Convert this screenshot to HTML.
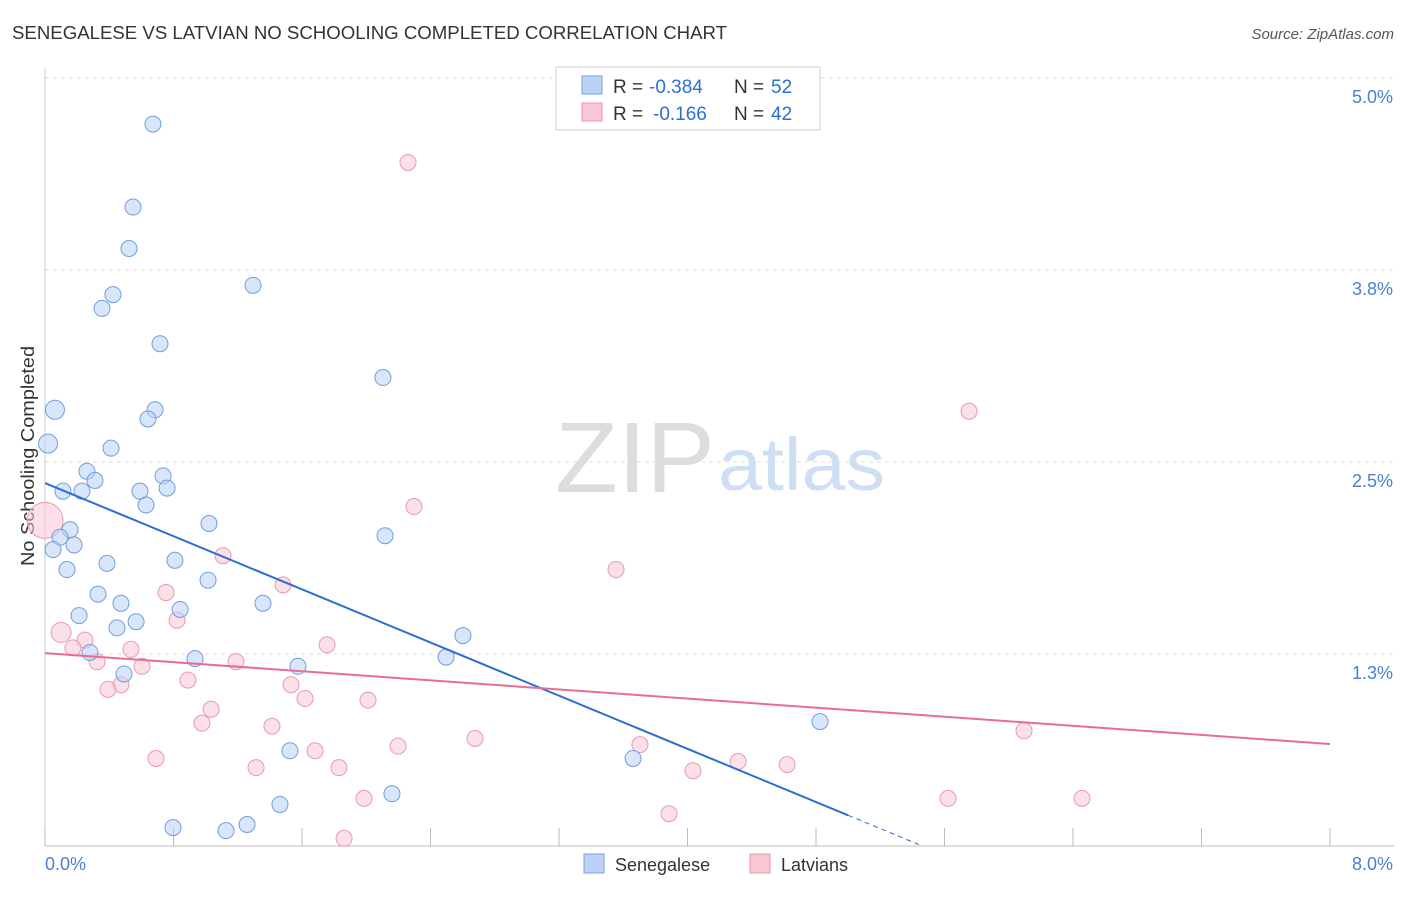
<!DOCTYPE html>
<html><head><meta charset="utf-8"><style>
body{margin:0;background:#fff;font-family:"Liberation Sans",sans-serif}
svg text{font-family:"Liberation Sans",sans-serif}
</style></head><body>
<svg width="1406" height="892">
<text x="12" y="39" font-size="18" fill="#333" textLength="715" lengthAdjust="spacingAndGlyphs">SENEGALESE VS LATVIAN NO SCHOOLING COMPLETED CORRELATION CHART</text>
<text x="1394" y="39" font-size="15" fill="#555" font-style="italic" text-anchor="end">Source: ZipAtlas.com</text>
<text x="0" y="0" transform="translate(34,456) rotate(-90)" font-size="18" fill="#333" text-anchor="middle" textLength="220" lengthAdjust="spacingAndGlyphs">No Schooling Completed</text>
<g id="grid"></g>
<text x="555" y="492" font-size="100" fill="#ddd" textLength="160" lengthAdjust="spacingAndGlyphs" font-family="Liberation Serif">ZIP</text>
<text x="718" y="490" font-size="74" fill="#cfdff3" textLength="167" lengthAdjust="spacingAndGlyphs">atlas</text>
<g id="marks"></g>
<g>
<rect x="556" y="67" width="264" height="63" fill="#fff" stroke="#ccc"/>
<rect x="582" y="76" width="20" height="18" fill="#b9d2f5" stroke="#7aa3e0"/>
<text x="613" y="93" font-size="19" fill="#333">R =</text>
<text x="649" y="93" font-size="19" fill="#2b6fd6">-0.384</text>
<text x="734" y="93" font-size="19" fill="#333">N =</text>
<text x="771" y="93" font-size="19" fill="#2b6fd6">52</text>
<rect x="582" y="103" width="20" height="18" fill="#f9c6d4" stroke="#e89ab0"/>
<text x="613" y="120" font-size="19" fill="#333">R =</text>
<text x="653" y="120" font-size="19" fill="#2b6fd6">-0.166</text>
<text x="734" y="120" font-size="19" fill="#333">N =</text>
<text x="771" y="120" font-size="19" fill="#2b6fd6">42</text>
</g>
<g>
<rect x="584" y="854" width="20" height="19" fill="#b9d2f5" stroke="#7aa3e0"/>
<text x="615" y="871" font-size="18" fill="#333">Senegalese</text>
<rect x="750" y="854" width="20" height="19" fill="#f9c6d4" stroke="#e89ab0"/>
<text x="781" y="871" font-size="18" fill="#333">Latvians</text>
</g>
</svg>
<script>
const blueX=[0.672,0.548,0.523,0.423,0.355,1.295,0.716,2.104,0.062,0.685,0.641,0.019,0.411,0.261,0.735,0.311,0.230,0.112,0.591,0.760,0.629,1.021,0.156,2.117,0.093,0.181,0.050,0.809,0.386,0.137,1.015,0.330,0.473,0.841,1.357,0.212,0.567,0.448,2.602,0.280,0.934,2.497,1.575,0.492,4.825,1.525,3.661,2.160,1.463,0.797,1.127,1.258];
const blueY=[4.70,4.16,3.89,3.59,3.50,3.65,3.27,3.05,2.84,2.84,2.78,2.62,2.59,2.44,2.41,2.38,2.31,2.31,2.31,2.33,2.22,2.10,2.06,2.02,2.01,1.96,1.93,1.86,1.84,1.80,1.73,1.64,1.58,1.54,1.58,1.50,1.46,1.42,1.37,1.26,1.22,1.23,1.17,1.12,0.81,0.62,0.57,0.34,0.27,0.12,0.10,0.14];
const pinkX=[2.260,5.753,2.297,1.108,3.555,1.482,0.753,0.822,0.100,0.249,1.756,0.174,0.535,0.324,1.189,0.604,0.890,1.532,0.473,0.392,1.619,2.011,1.034,0.977,1.413,6.095,2.677,3.704,1.681,2.198,0.691,4.315,4.620,1.314,1.830,4.034,1.986,5.622,6.456,3.885,1.862,0.0];
const pinkY=[4.45,2.83,2.21,1.89,1.80,1.70,1.65,1.47,1.39,1.34,1.31,1.29,1.28,1.20,1.20,1.17,1.08,1.05,1.05,1.02,0.96,0.95,0.89,0.80,0.78,0.75,0.70,0.66,0.62,0.65,0.57,0.55,0.53,0.51,0.51,0.49,0.31,0.31,0.31,0.21,0.05,2.12];
const blueTrend=[2.363,-0.4326];
const pinkTrend=[1.256,-0.074];
const xTicks=[0,0.8,1.6,2.4,3.2,4.0,4.8,5.6,6.4,7.2,8.0];
const yTicks=[1.25,2.5,3.75,5.0];
const yTickLabels=["1.3%","2.5%","3.8%","5.0%"];
const NS="http://www.w3.org/2000/svg";
const X=v=>45+v/8*1285, Y=v=>846-v/1.25*192;
function mk(t,a,p){const e=document.createElementNS(NS,t);for(const k in a)e.setAttribute(k,a[k]);p.appendChild(e);return e;}
const g=document.getElementById('grid'), m=document.getElementById('marks');
yTicks.forEach((t,i)=>{
 const l=mk('line',{x1:45,x2:1394,y1:Y(t),y2:Y(t),stroke:'#ddd','stroke-dasharray':'4,4'},g);
 
 
 const tx=mk('text',{x:1393,y:Y(t)+25,'font-size':18,fill:'#4a7fd4','text-anchor':'end'},g);tx.textContent=yTickLabels[i];
 
 
});
const ax=mk('line',{x1:45,x2:1394,y1:846,y2:846,stroke:'#bbb'},g);


const ay=mk('line',{x1:45,x2:45,y1:68,y2:846,stroke:'#ccc'},g);


xTicks.forEach(t=>{const l=mk('line',{x1:X(t),x2:X(t),y1:828,y2:846,stroke:'#bbb'},g);
 
 });
const xl0=mk('text',{x:45,y:870,'font-size':18,fill:'#4a7fd4'},g);xl0.textContent='0.0%';


const xl1=mk('text',{x:1393,y:870,'font-size':18,fill:'#4a7fd4','text-anchor':'end'},g);xl1.textContent='8.0%';


function pts(xs,ys,fill,stroke,name){xs.forEach((x,i)=>{
 let r=8; if(name==='latvian-point'&&x===0)r=18; else if(name==='latvian-point'&&i===8)r=10; else if(name==='senegalese-point'&&(i===11||i===8))r=9.5;
 const c=mk('circle',{cx:X(x),cy:Y(ys[i]),r:r,fill:fill,'fill-opacity':0.55,stroke:stroke,'stroke-width':1},m);
 
 });}
pts(pinkX,pinkY,'#f9c6d4','#e89ab0','latvian-point');
pts(blueX,blueY,'#b9d2f5','#6f9ee0','senegalese-point');
const bl=mk('line',{x1:X(0),y1:Y(blueTrend[0]),x2:X(5.0),y2:Y(blueTrend[0]+blueTrend[1]*5.0),stroke:'#2b6fd6','stroke-width':2},m);


const bd=mk('line',{x1:X(5.0),y1:Y(blueTrend[0]+blueTrend[1]*5.0),x2:X(5.44),y2:Y(blueTrend[0]+blueTrend[1]*5.44),stroke:'#2b6fd6','stroke-width':1,'stroke-dasharray':'5,4'},m);


const pl=mk('line',{x1:X(0),y1:Y(pinkTrend[0]),x2:X(8),y2:Y(pinkTrend[0]+pinkTrend[1]*8),stroke:'#e86c98','stroke-width':2},m);


</script>
</body></html>
